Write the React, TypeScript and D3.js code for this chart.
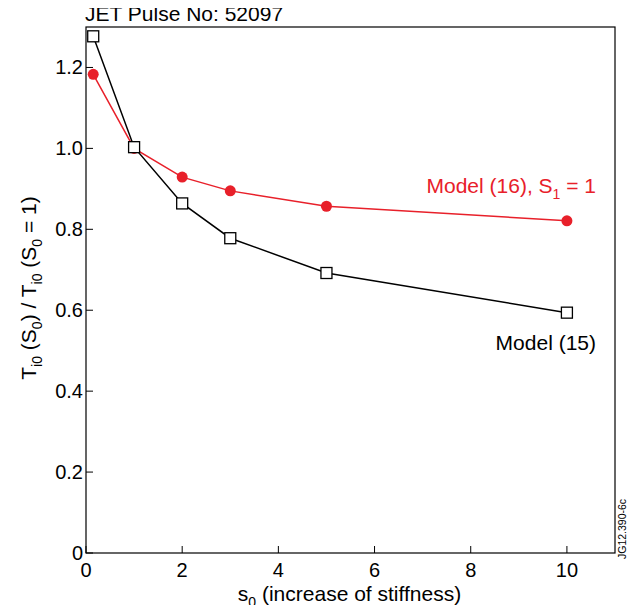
import { useEffect, useRef } from "react";
import * as d3 from "d3";

const s0 = [0.15, 1, 2, 3, 5, 10];
const model15 = [1.277, 1.003, 0.864, 0.778, 0.692, 0.594];
const model16 = [1.183, 1.0, 0.929, 0.895, 0.857, 0.821];
const xTicks = [0, 2, 4, 6, 8, 10];
const yTicks = [0, 0.2, 0.4, 0.6, 0.8, 1.0, 1.2];

const RED = "#e8202a";
const FONT = "'Liberation Sans', Arial, sans-serif";

export default function App() {
  const svgRef = useRef<SVGSVGElement>(null);

  useEffect(() => {
    const svg = d3.select(svgRef.current);
    svg.selectAll("*").remove();

    const left = 86, right = 615, top = 27, bottom = 553;
    const x = d3.scaleLinear().domain([0, 11]).range([left, right]);
    const y = d3.scaleLinear().domain([0, 1.3]).range([bottom, top]);

    svg.append("rect")
      .attr("x", left).attr("y", top)
      .attr("width", right - left).attr("height", bottom - top)
      .attr("fill", "none").attr("stroke", "#000").attr("stroke-width", 1.2);

    // ticks (inward)
    const g = svg.append("g").attr("font-family", FONT).attr("font-size", 21);
    xTicks.forEach((t) => {
      g.append("line").attr("x1", x(t)).attr("x2", x(t))
        .attr("y1", bottom).attr("y2", bottom - 7).attr("stroke", "#000");
      g.append("text").attr("x", x(t)).attr("y", bottom + 24)
        .attr("font-size", 20).attr("text-anchor", "middle").text(t);
    });
    yTicks.forEach((t) => {
      g.append("line").attr("x1", left).attr("x2", left + 7)
        .attr("y1", y(t)).attr("y2", y(t)).attr("stroke", "#000");
      g.append("text").attr("x", left - 3).attr("y", y(t) + 7)
        .attr("font-size", 20).attr("text-anchor", "end")
        .text(t === 0 ? "0" : d3.format(".1f")(t));
    });

    // title
    g.append("text").attr("x", left - 1).attr("y", 21).text("JET Pulse No: 52097");

    // x label
    const xl = g.append("text").attr("x", (left + right) / 2 - 1).attr("y", 601)
      .attr("text-anchor", "middle");
    xl.append("tspan").text("s");
    xl.append("tspan").attr("font-size", 14).attr("dy", 6).text("0");
    xl.append("tspan").attr("dy", -6).text(" (increase of stiffness)");

    // y label
    const yl = g.append("text")
      .attr("transform", `translate(36, ${(top + bottom) / 2 - 2}) rotate(-90)`)
      .attr("text-anchor", "middle");
    yl.append("tspan").text("T");
    yl.append("tspan").attr("font-size", 14).attr("dy", 6).text("i0");
    yl.append("tspan").attr("dy", -6).text(" (S");
    yl.append("tspan").attr("font-size", 14).attr("dy", 6).text("0");
    yl.append("tspan").attr("dy", -6).text(") / T");
    yl.append("tspan").attr("font-size", 14).attr("dy", 6).text("i0");
    yl.append("tspan").attr("dy", -6).text(" (S");
    yl.append("tspan").attr("font-size", 14).attr("dy", 6).text("0");
    yl.append("tspan").attr("dy", -6).text(" = 1)");

    // code
    svg.append("text")
      .attr("transform", `translate(626, 559) rotate(-90)`)
      .attr("font-family", FONT).attr("font-size", 10.5).text("JG12.390-6c");

    const line = d3.line<number>().x((_, i) => x(s0[i])).y((d) => y(d));

    // red series
    svg.append("path").attr("d", line(model16)).attr("fill", "none")
      .attr("stroke", RED).attr("stroke-width", 1.5);
    svg.selectAll(".c").data(model16).enter().append("circle")
      .attr("cx", (_, i) => x(s0[i])).attr("cy", (d) => y(d))
      .attr("r", 5.5).attr("fill", RED);

    // black series
    svg.append("path").attr("d", line(model15)).attr("fill", "none")
      .attr("stroke", "#000").attr("stroke-width", 1.5);
    svg.selectAll(".s").data(model15).enter().append("rect")
      .attr("x", (_, i) => x(s0[i]) - 5.5).attr("y", (d) => y(d) - 5.5)
      .attr("width", 11).attr("height", 11)
      .attr("fill", "#fff").attr("stroke", "#000").attr("stroke-width", 1.3);

    // series labels
    const rl = g.append("text").attr("x", 596).attr("y", 193)
      .attr("text-anchor", "end").attr("fill", RED);
    rl.append("tspan").text("Model (16), S");
    rl.append("tspan").attr("font-size", 14).attr("dy", 6).text("1");
    rl.append("tspan").attr("dy", -6).text(" = 1");

    g.append("text").attr("x", 596).attr("y", 350)
      .attr("text-anchor", "end").text("Model (15)");
  }, []);

  return (
    <svg ref={svgRef} width={638} height={613} style={{ display: "block", margin: "-8px" }} />
  );
}
